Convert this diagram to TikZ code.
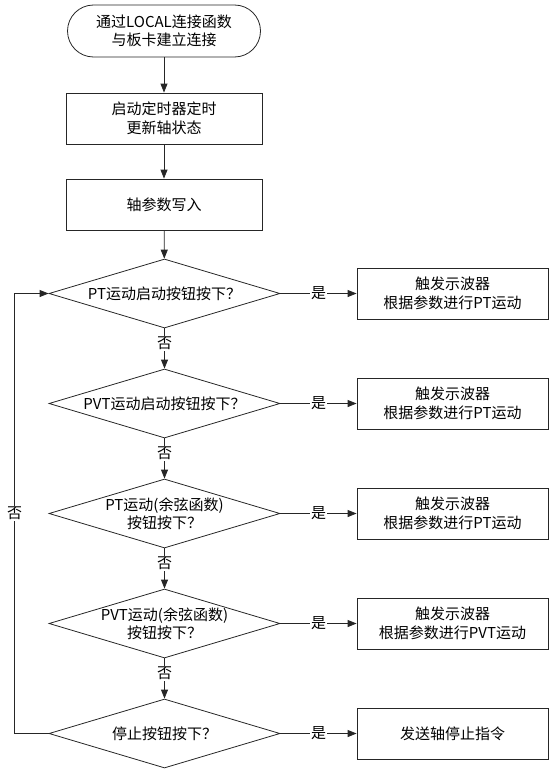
\documentclass[tikz,border=0pt]{standalone}
\usepackage{fontspec}
\newfontfamily\cjk{Noto Sans CJK SC}
\usetikzlibrary{shapes.geometric,arrows.meta}
\tikzset{
  base/.style={draw=black!85, line width=0.8pt, align=center, font=\cjk\fontsize{15}{18.5}\selectfont},
  startbox/.style={base, rectangle, rounded corners=26pt, minimum width=193pt, minimum height=52pt},
  procbox/.style={base, rectangle, minimum width=196pt, minimum height=51pt},
  outbox/.style={base, rectangle, minimum width=191pt, minimum height=51pt},
  decision/.style={base, diamond, aspect=3.35, inner xsep=0pt, inner ysep=-3pt, minimum width=231pt, minimum height=69pt},
  arr/.style={draw=black!85, line width=0.8pt, -{Triangle[length=9pt,width=7pt]}},
  lbl/.style={fill=white, inner sep=1pt, font=\cjk\fontsize{15}{18}\selectfont},
}
\begin{document}
\begin{tikzpicture}[x=1pt,y=-1pt]
\useasboundingbox (0,0) rectangle (556,776);
\node[startbox] (start) at (164,31) {通过LOCAL连接函数\\与板卡建立连接};
\node[procbox] (timer) at (164,118.5) {启动定时器定时\\更新轴状态};
\node[procbox] (write) at (164,204.5) {轴参数写入};
% decisions
\node[decision] (pt) at (164.5,293.5) {PT运动启动按钮按下？};
\node[decision] (pvt) at (164.5,403.5) {PVT运动启动按钮按下？};
\node[decision] (ptcos) at (164.5,513.5) {PT运动(余弦函数)\\按钮按下？};
\node[decision] (pvtcos) at (164.5,623.5) {PVT运动(余弦函数)\\按钮按下？};
\node[decision] (stop) at (164.5,733.5) {停止按钮按下？};
% outputs
\node[outbox] (ptrun) at (452.5,293.5) {触发示波器\\根据参数进行PT运动};
\node[outbox] (pvtrun) at (452.5,403.5) {触发示波器\\根据参数进行PT运动};
\node[outbox] (ptcosrun) at (452.5,513.5) {触发示波器\\根据参数进行PT运动};
\node[outbox] (pvtcosrun) at (452.5,623.5) {触发示波器\\根据参数进行PVT运动};
\node[outbox] (stoprun) at (452.5,733.5) {发送轴停止指令};
% main flow
\draw[arr] (start) -- (timer);
\draw[arr] (timer) -- (write);
\draw[arr] (write) -- (pt);
\draw[arr] (pt) -- node[lbl, pos=0.38] {否} (pvt);
\draw[arr] (pvt) -- node[lbl, pos=0.38] {否} (ptcos);
\draw[arr] (ptcos) -- node[lbl, pos=0.38] {否} (pvtcos);
\draw[arr] (pvtcos) -- node[lbl, pos=0.38] {否} (stop);
% yes branches
\draw[arr] (pt) -- node[lbl] {是} (ptrun);
\draw[arr] (pvt) -- node[lbl] {是} (pvtrun);
\draw[arr] (ptcos) -- node[lbl] {是} (ptcosrun);
\draw[arr] (pvtcos) -- node[lbl] {是} (pvtcosrun);
\draw[arr] (stop) -- node[lbl] {是} (stoprun);
% loop back
\draw[arr] (stop.west) -- ++(-34,0) |- node[lbl, pos=0.25] {否} (pt.west);
\end{tikzpicture}
\end{document}
